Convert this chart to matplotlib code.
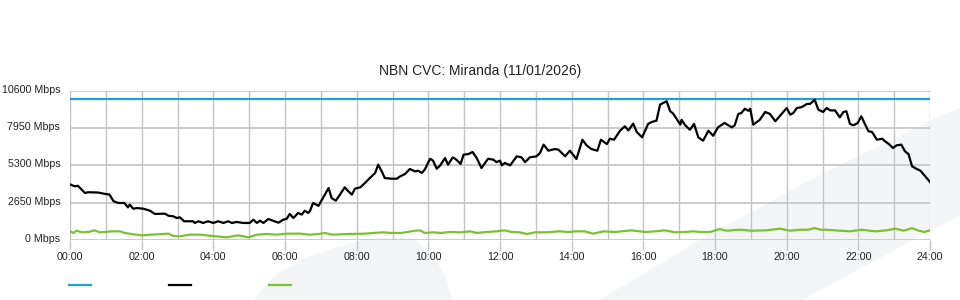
import matplotlib
matplotlib.use("Agg")
import matplotlib.pyplot as plt
import matplotlib.transforms as mtransforms
from matplotlib.patches import Polygon
from matplotlib.lines import Line2D

plt.rcParams['font.family'] = ['Liberation Sans', 'DejaVu Sans']

title = "NBN CVC: Miranda (11/01/2026)"
capacity = 10000
y_ticks = [0, 2650, 5300, 7950, 10600]
y_labels = [f"{v} Mbps" for v in y_ticks]
x_ticks = list(range(0, 1441, 120))
x_labels = [f"{h:02d}:00" for h in range(0, 25, 2)]

black_t = [0, 8, 13, 17, 25, 30, 47, 59, 66, 73, 81, 91, 97, 100, 106, 112, 123, 134, 142, 159,
           165, 173, 179, 184, 191, 206, 209, 215, 223, 231, 240, 248, 257, 265, 271, 279, 290, 301,
           307, 313, 318, 324, 332, 340, 349, 357, 363, 368, 374, 382, 388, 393, 399, 402, 407, 416,
           433, 438, 445, 452, 460, 466, 472, 477, 486, 494, 502, 511, 516, 522, 527, 539, 547, 553,
           561, 569, 578, 583, 589, 594, 603, 608, 614, 620, 628, 633, 641, 647, 654, 659, 667, 674,
           681, 689, 700, 709, 714, 720, 723, 728, 737, 748, 756, 762, 770, 781, 787, 793, 801, 812,
           818, 829, 837, 848, 858, 865, 873, 883, 889, 899, 904, 911, 921, 929, 935, 943, 949, 958,
           968, 974, 982, 988, 999, 1005, 1010, 1022, 1024, 1030, 1038, 1045, 1052, 1060, 1069, 1077,
           1085, 1096, 1108, 1113, 1119, 1124, 1130, 1136, 1139, 1144, 1155, 1164, 1172, 1181, 1189,
           1200, 1206, 1211, 1217, 1225, 1234, 1239, 1247, 1253, 1261, 1267, 1273, 1281, 1289, 1295,
           1300, 1306, 1312, 1319, 1325, 1331, 1337, 1343, 1351, 1360, 1365, 1371, 1378, 1384, 1392,
           1398, 1404, 1410, 1418, 1424, 1432, 1440]
black_v = [3950, 3810, 3850, 3690, 3340, 3390, 3370, 3270, 3230, 2750, 2630, 2630, 2320, 2510, 2220,
           2270, 2220, 2080, 1850, 1870, 1720, 1680, 1560, 1610, 1330, 1330, 1210, 1330, 1210, 1330,
           1210, 1330, 1210, 1330, 1210, 1280, 1210, 1210, 1440, 1210, 1370, 1210, 1490, 1370, 1230,
           1440, 1510, 1850, 1560, 1920, 1800, 2080, 1920, 2080, 2630, 2420, 3690, 2980, 2790, 3220,
           3740, 3460, 3220, 3640, 3740, 4050, 4400, 4760, 5350, 4870, 4400, 4350, 4350, 4520, 4690,
           5040, 4870, 4920, 4760, 5000, 5770, 5630, 5060, 5300, 5820, 5350, 5870, 5700, 5400, 6060,
           6100, 6250, 5820, 5110, 5770, 5700, 5530, 5630, 5300, 5470, 5300, 5940, 5870, 5530, 5870,
           5940, 6180, 6770, 6340, 6460, 6410, 5940, 6340, 5750, 7120, 6720, 6460, 6340, 7120, 6810,
           7190, 7120, 7760, 8070, 7780, 8260, 7670, 7290, 8240, 8380, 8470, 9610, 9850, 9140, 8970,
           8190, 8530, 8150, 7830, 8240, 7290, 7050, 7760, 7400, 8000, 8310, 8000, 8140, 8950, 9010,
           9320, 9170, 9320, 8190, 8530, 9090, 8950, 8430, 8830, 9370, 8900, 9010, 9370, 9430, 9660,
           9660, 9960, 9250, 9090, 9370, 9200, 9200, 8710, 9090, 9140, 8240, 8140, 8310, 8780, 8240,
           7720, 7670, 7120, 7190, 7000, 6820, 6530, 6720, 6770, 6300, 6100, 5230, 5040, 4920, 4520,
           4120]

green_t = [0, 6, 11, 20, 31, 41, 50, 59, 70, 84, 92, 103, 120, 137, 154, 165, 173, 184, 201, 218,
           234, 262, 282, 299, 313, 329, 346, 363, 385, 402, 416, 427, 438, 466, 494, 522, 539, 555,
           578, 586, 594, 608, 622, 636, 653, 670, 681, 698, 714, 728, 739, 753, 765, 779, 798, 818,
           835, 846, 862, 876, 893, 913, 940, 963, 980, 996, 1013, 1030, 1044, 1055, 1072, 1088, 1099,
           1122, 1141, 1166, 1189, 1206, 1222, 1236, 1247, 1256, 1264, 1281, 1306, 1326, 1348, 1367,
           1382, 1396, 1410, 1421, 1431, 1440]
green_v = [615, 500, 660, 545, 570, 685, 545, 570, 615, 615, 500, 425, 330, 380, 425, 450, 285, 260,
           380, 380, 305, 190, 330, 190, 380, 425, 380, 450, 450, 380, 425, 500, 380, 425, 450, 545,
           500, 500, 660, 685, 500, 545, 500, 570, 545, 615, 500, 570, 615, 685, 570, 545, 425, 545,
           545, 615, 570, 615, 615, 450, 615, 570, 685, 570, 615, 685, 545, 570, 615, 570, 570, 780,
           660, 730, 660, 685, 805, 660, 730, 730, 850, 730, 730, 685, 615, 730, 615, 685, 805, 660,
           850, 660, 570, 685]

W, H = 960, 300
fig = plt.figure(figsize=(W / 100, H / 100), dpi=100)
fig.patch.set_facecolor('white')

def fc(pts):
    return [(x / W, 1 - y / H) for x, y in pts]

wm = '#f4f5f7'
band = [(600, 300), (700, 240), (820, 175), (940, 116), (960, 108), (960, 215), (913, 240), (802, 300)]
blob = [(253, 300), (275, 275), (305, 258), (335, 248), (360, 241), (380, 238), (400, 238), (417, 241),
        (432, 255), (445, 275), (452, 300)]
for pts in (band, blob):
    fig.patches.append(Polygon(fc(pts), closed=True, transform=fig.transFigure,
                               facecolor=wm, edgecolor='none', zorder=-5))

ax = fig.add_axes([70 / W, 60 / H, 860 / W, 149.3 / H])
ax.set_zorder(1)
ax.patch.set_alpha(0)
ax.set_xlim(0, 1440)
ax.set_ylim(0, 10600)

grid_c = '#c4c4c4'
ax.set_xticks(x_ticks)
ax.set_xticklabels(x_labels)
ax.set_xticks(list(range(60, 1440, 120)), minor=True)
ax.set_yticks(y_ticks)
ax.set_yticklabels(y_labels)
ax.grid(True, which='both', axis='x', color=grid_c, linewidth=1.0)
ax.grid(True, which='major', axis='y', color=grid_c, linewidth=1.2)
ax.set_axisbelow(True)
for s in ax.spines.values():
    s.set_visible(False)
ax.tick_params(axis='x', which='major', length=7, width=1, color=grid_c, pad=1.5,
               labelsize=7.7, labelcolor='#222222')
ax.tick_params(axis='x', which='minor', length=0)
ax.tick_params(axis='y', length=0, pad=7, labelsize=7.7, labelcolor='#222222')
shift = mtransforms.ScaledTranslation(0, 2 / 100, fig.dpi_scale_trans)
for lbl in ax.get_yticklabels():
    lbl.set_transform(lbl.get_transform() + shift)

ax.plot([0, 1440], [capacity, capacity], color='#19a3dd', linewidth=1.6, zorder=3)
ax.plot(green_t, green_v, color='#7cc230', linewidth=1.6, zorder=4)
ax.plot(black_t, black_v, color='#000000', linewidth=1.6, zorder=5)

fig.text(480 / W, 1 - 71 / H, title, ha='center', va='center', fontsize=10, color='#222222')

for x0, col in ((69, '#19a3dd'), (169, '#000000'), (269, '#7cc230')):
    fig.lines.append(Line2D([x0 / W, (x0 + 22) / W], [1 - 285 / H, 1 - 285 / H],
                            transform=fig.transFigure, color=col, linewidth=1.6))

fig.savefig('out.png', dpi=100)
